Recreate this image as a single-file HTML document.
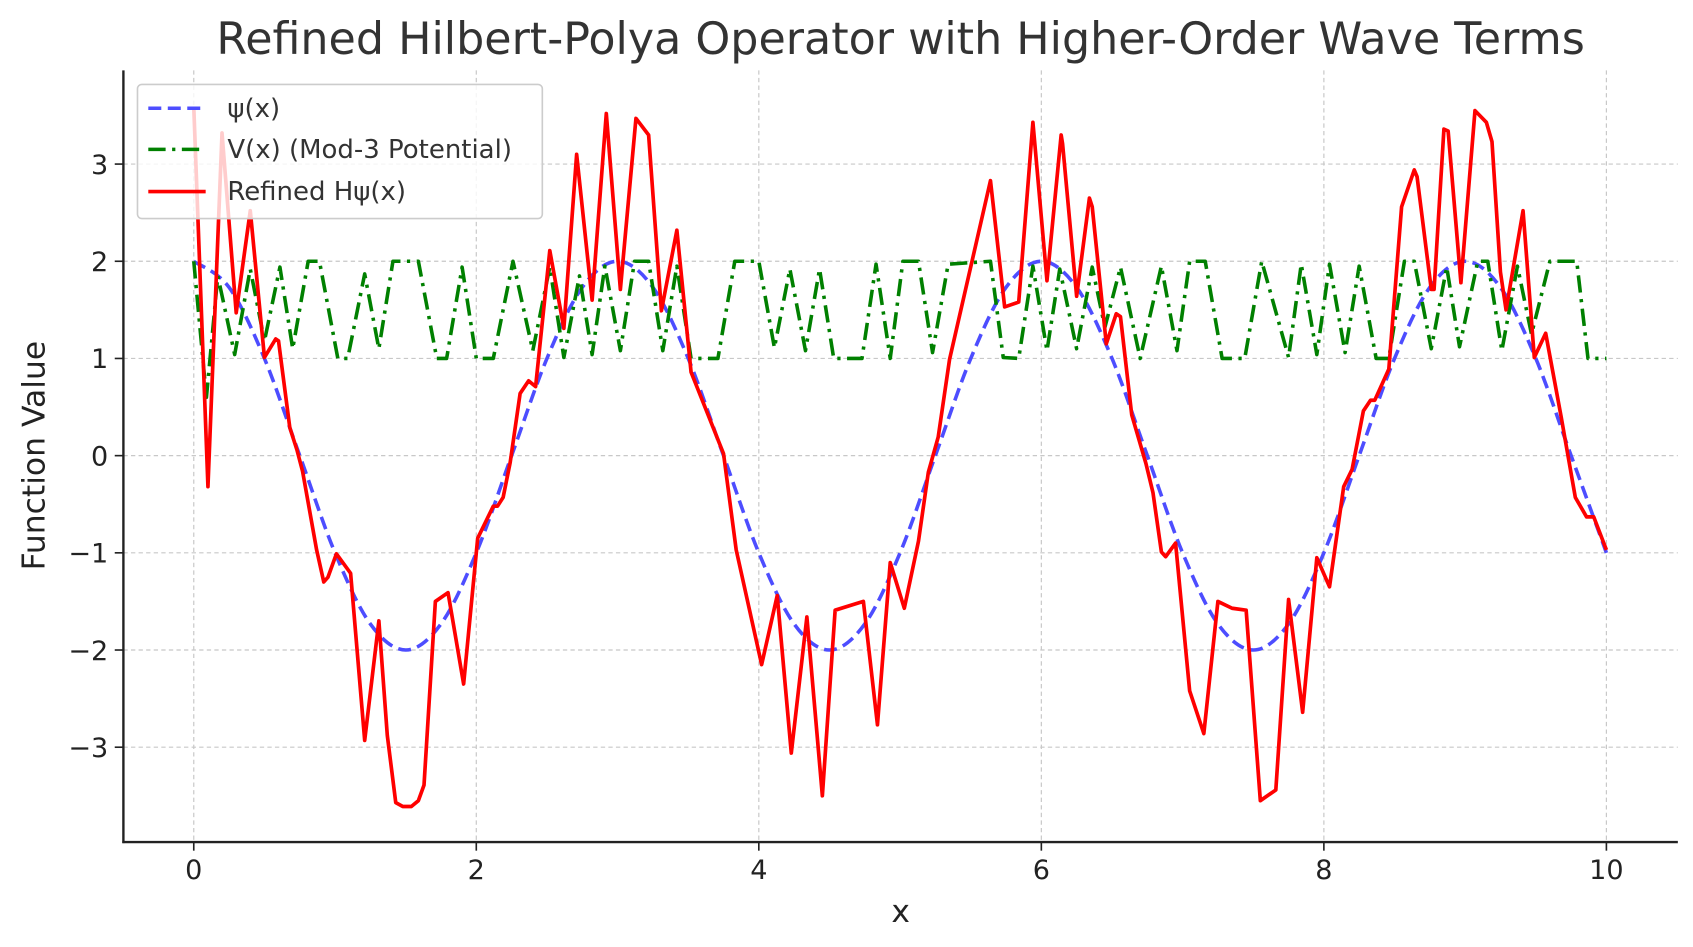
<!DOCTYPE html>
<html><head><meta charset="utf-8"><title>Refined Hilbert-Polya Operator</title>
<style>html,body{margin:0;padding:0;background:#fff;}svg{display:block;font-family:"DejaVu Sans","Liberation Sans",sans-serif;}</style>
</head><body>
<svg id="chart" width="1693" height="947" viewBox="0 0 1564 875" preserveAspectRatio="none" xmlns="http://www.w3.org/2000/svg">
<rect width="1564" height="875" fill="#fff"/>
<g id="grid"></g>
<g id="series"></g>
<g id="axes"></g>
<text x="832" y="50" text-anchor="middle" font-size="41" fill="#333">Refined Hilbert-Polya Operator with Higher-Order Wave Terms</text>
<text x="832" y="852" text-anchor="middle" font-size="29" fill="#222">x</text>
<text transform="translate(41,421) rotate(-90)" text-anchor="middle" font-size="29" fill="#222">Function Value</text>
<g>
<rect x="127" y="78" width="374" height="124" rx="4" fill="#fff" fill-opacity="0.8" stroke="#ccc" stroke-width="1.5"/>
<line x1="137" y1="100" x2="190" y2="100" stroke="#4d4dff" stroke-width="3.3" stroke-dasharray="12,6"/>
<text x="210" y="108" font-size="24" fill="#333">ψ(x)</text>
<line x1="137" y1="138" x2="190" y2="138" stroke="#008000" stroke-width="3.3" stroke-dasharray="16,6,3,6"/>
<text x="210" y="146" font-size="24" fill="#333">V(x) (Mod-3 Potential)</text>
<line x1="137" y1="177" x2="190" y2="177" stroke="#ff0000" stroke-width="3.3"/>
<text x="210" y="185" font-size="24" fill="#333">Refined Hψ(x)</text>
</g>
</svg>
<script>
const xTicks = [0, 2, 4, 6, 8, 10];
const yTicks = [-3, -2, -1, 0, 1, 2, 3];
const psiX = [0,0.25,0.5,0.75,1,1.25,1.5,1.75,2,2.25,2.5,2.75,3,3.25,3.5,3.75,4,4.25,4.5,4.75,5,5.25,5.5,5.75,6,6.25,6.5,6.75,7,7.25,7.5,7.75,8,8.25,8.5,8.75,9,9.25,9.5,9.75,10];
const psiY = [2,1.732,1,0,-1,-1.732,-2,-1.732,-1,0,1,1.732,2,1.732,1,0,-1,-1.732,-2,-1.732,-1,0,1,1.732,2,1.732,1,0,-1,-1.732,-2,-1.732,-1,0,1,1.732,2,1.732,1,0,-1];
const vX = [0,0.09,0.17,0.29,0.40,0.50,0.61,0.70,0.81,0.89,1.02,1.09,1.21,1.31,1.41,1.59,1.72,1.79,1.90,2.00,2.12,2.26,2.40,2.52,2.62,2.73,2.82,2.91,3.02,3.12,3.22,3.32,3.42,3.52,3.71,3.83,4.00,4.11,4.22,4.33,4.43,4.53,4.73,4.83,4.93,5.02,5.13,5.23,5.34,5.64,5.73,5.84,5.94,6.04,6.13,6.25,6.36,6.45,6.56,6.70,6.85,6.96,7.05,7.16,7.28,7.44,7.56,7.75,7.84,7.95,8.04,8.15,8.25,8.37,8.46,8.57,8.64,8.76,8.87,8.96,9.09,9.16,9.26,9.37,9.47,9.60,9.79,9.87,10];
const vY = [2,0.6,1.85,1.04,1.92,1.18,1.94,1.1,2,2,1,1,1.87,1.1,2,2,1,1,1.94,1,1,2,1.08,1.94,1.01,1.85,1.04,1.95,1.08,2,2,1.08,1.95,1,1,2,2,1.11,1.92,1.08,1.92,1,1,1.97,1,2,2,1.06,1.97,2,1.01,1,1.95,1.08,1.92,1.1,1.94,1.32,1.94,1,1.95,1.08,2,2,1,1,2,1.01,1.97,1.04,1.97,1.06,1.95,1,1,2,2,1.1,1.94,1.12,2,2,1.08,1.95,1.25,2,2,1,1];
const hX = [0,0.10,0.20,0.30,0.40,0.50,0.58,0.60,0.68,0.73,0.77,0.87,0.92,0.95,1.01,1.11,1.21,1.31,1.37,1.43,1.48,1.54,1.59,1.63,1.71,1.80,1.91,2.01,2.12,2.15,2.19,2.24,2.31,2.37,2.42,2.52,2.62,2.71,2.82,2.92,3.02,3.13,3.22,3.31,3.42,3.52,3.75,3.84,4.02,4.13,4.23,4.34,4.45,4.54,4.74,4.84,4.93,5.03,5.13,5.20,5.27,5.35,5.64,5.74,5.84,5.94,6.04,6.14,6.15,6.25,6.34,6.36,6.46,6.53,6.56,6.64,6.74,6.79,6.85,6.88,6.95,7.05,7.15,7.25,7.35,7.45,7.55,7.66,7.75,7.85,7.95,8.04,8.14,8.20,8.28,8.33,8.36,8.46,8.55,8.64,8.66,8.76,8.78,8.85,8.88,8.97,9.07,9.15,9.19,9.25,9.29,9.41,9.49,9.57,9.68,9.78,9.86,9.91,10];
const hY = [3.59,-0.32,3.32,1.47,2.52,1.01,1.20,1.18,0.29,0.06,-0.16,-0.97,-1.30,-1.25,-1.01,-1.21,-2.93,-1.70,-2.88,-3.57,-3.61,-3.61,-3.55,-3.39,-1.50,-1.41,-2.35,-0.85,-0.52,-0.52,-0.43,-0.07,0.64,0.77,0.71,2.11,1.31,3.10,1.60,3.52,1.71,3.47,3.30,1.49,2.32,0.86,0.02,-0.97,-2.15,-1.44,-3.06,-1.66,-3.50,-1.59,-1.50,-2.77,-1.10,-1.57,-0.88,-0.17,0.19,0.99,2.83,1.53,1.58,3.43,1.80,3.30,3.21,1.64,2.65,2.56,1.15,1.46,1.43,0.42,-0.08,-0.38,-0.99,-1.04,-0.90,-2.42,-2.86,-1.50,-1.57,-1.59,-3.55,-3.44,-1.48,-2.64,-1.05,-1.35,-0.32,-0.14,0.46,0.57,0.57,0.89,2.56,2.94,2.87,1.71,1.71,3.36,3.34,1.78,3.55,3.43,3.23,1.89,1.50,2.52,1.01,1.26,0.40,-0.43,-0.63,-0.63,-0.97];

const NS = 'http://www.w3.org/2000/svg';
const X0 = 179, XU = 130.5, Y0 = 421, YU = 89.8;
function sx(v){ return X0 + v * XU; }
function sy(v){ return Y0 - v * YU; }
function mk(tag, attrs, parent){ const e = document.createElementNS(NS, tag); for (const k in attrs) e.setAttribute(k, attrs[k]); parent.appendChild(e); return e; }

const grid = document.getElementById('grid');
const axes = document.getElementById('axes');
const series = document.getElementById('series');

xTicks.forEach(t => {
  const g = mk('line', {x1: sx(t), x2: sx(t), y1: 65, y2: 778, stroke: '#c8c8c8', 'stroke-width': 1.1, 'stroke-dasharray': '4,3'}, grid);
  
  
  const tk = mk('line', {x1: sx(t), x2: sx(t), y1: 778, y2: 786, stroke: '#222', 'stroke-width': 1.5}, axes);
  
  
  const lb = mk('text', {x: sx(t), y: 812, 'text-anchor': 'middle', 'font-size': 25, fill: '#222'}, axes);
  lb.textContent = String(t);
  
  
});
yTicks.forEach(t => {
  const g = mk('line', {x1: 114, x2: 1550, y1: sy(t), y2: sy(t), stroke: '#c8c8c8', 'stroke-width': 1.1, 'stroke-dasharray': '4,3'}, grid);
  
  
  const tk = mk('line', {x1: 106, x2: 114, y1: sy(t), y2: sy(t), stroke: '#222', 'stroke-width': 1.5}, axes);
  
  
  const lb = mk('text', {x: 100, y: sy(t) + 9, 'text-anchor': 'end', 'font-size': 25, fill: '#222'}, axes);
  lb.textContent = t < 0 ? '\u2212' + Math.abs(t) : String(t);
  
  
});
const ls = mk('line', {x1: 114, x2: 114, y1: 65, y2: 779, stroke: '#222', 'stroke-width': 2.2}, axes);


const bs = mk('line', {x1: 113, x2: 1550, y1: 778, y2: 778, stroke: '#222', 'stroke-width': 2.2}, axes);



function linePath(xs, ys){ return xs.map((x, i) => (i ? 'L' : 'M') + sx(x).toFixed(1) + ',' + sy(ys[i]).toFixed(1)).join(''); }
function smoothPath(xs, ys){
  const p = xs.map((x, i) => [sx(x), sy(ys[i])]);
  let d = 'M' + p[0][0].toFixed(1) + ',' + p[0][1].toFixed(1);
  for (let i = 0; i < p.length - 1; i++) {
    const a = p[Math.max(i - 1, 0)], b = p[i], c = p[i + 1], e = p[Math.min(i + 2, p.length - 1)];
    const c1 = [b[0] + (c[0] - a[0]) / 6, b[1] + (c[1] - a[1]) / 6];
    const c2 = [c[0] - (e[0] - b[0]) / 6, c[1] - (e[1] - b[1]) / 6];
    d += 'C' + c1[0].toFixed(1) + ',' + c1[1].toFixed(1) + ' ' + c2[0].toFixed(1) + ',' + c2[1].toFixed(1) + ' ' + c[0].toFixed(1) + ',' + c[1].toFixed(1);
  }
  return d;
}
const psiLine = mk('path', {d: smoothPath(psiX, psiY), fill: 'none', stroke: '#4d4dff', 'stroke-width': 3.3, 'stroke-dasharray': '12,6'}, series);


const vLine = mk('path', {d: linePath(vX, vY), fill: 'none', stroke: '#008000', 'stroke-width': 3.3, 'stroke-dasharray': '16,6,3,6', 'stroke-linejoin': 'round'}, series);


const hLine = mk('path', {d: linePath(hX, hY), fill: 'none', stroke: '#ff0000', 'stroke-width': 3.4, 'stroke-linejoin': 'round'}, series);


</script>
</body></html>
